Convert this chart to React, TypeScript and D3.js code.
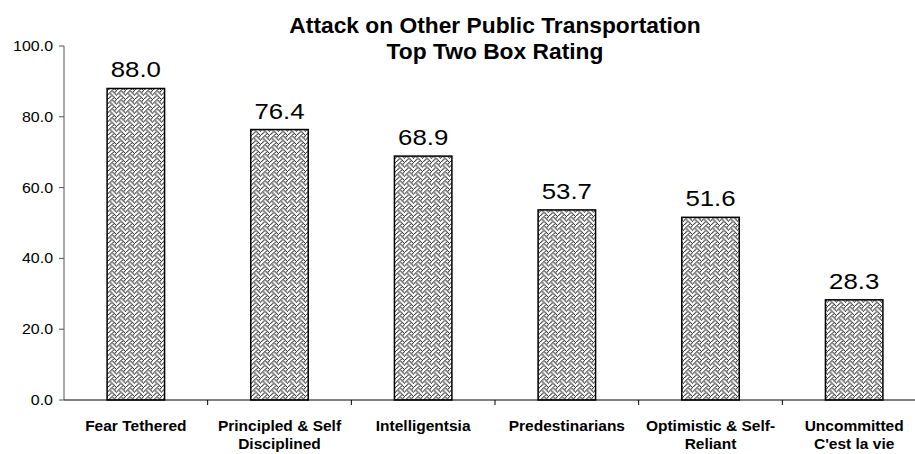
import React from "react";
import * as d3 from "d3";

const categories: string[][] = [
  ["Fear Tethered"],
  ["Principled & Self", "Disciplined"],
  ["Intelligentsia"],
  ["Predestinarians"],
  ["Optimistic & Self-", "Reliant"],
  ["Uncommitted", "C'est la vie"],
];
const values: number[] = [88.0, 76.4, 68.9, 53.7, 51.6, 28.3];
const yTicks: number[] = [0, 20, 40, 60, 80, 100];
const titleLines: string[] = ["Attack on Other Public Transportation", "Top Two Box Rating"];

// 8x8 weave bitmap rows
const weaveRows: number[] = [0x11, 0x2a, 0x44, 0xa2, 0x11, 0x28, 0x44, 0x8a];

const W = 915;
const H = 454;
const left = 64;
const right = 926;
const top = 46;
const bottom = 400;
const FONT = "Arial, 'Liberation Sans', Helvetica, sans-serif";

export default function App() {
  const x = d3
    .scaleBand<number>()
    .domain(values.map((_, i) => i))
    .range([left, right])
    .paddingInner(0)
    .paddingOuter(0);
  const y = d3.scaleLinear().domain([0, 100]).range([bottom, top]);
  const bw = x.bandwidth() * 0.4;

  const cells: { cx: number; cy: number }[] = [];
  weaveRows.forEach((row, r) => {
    for (let c = 0; c < 8; c++) {
      if ((row >> (7 - c)) & 1) cells.push({ cx: c, cy: r });
    }
  });

  return (
    <svg
      width={W}
      height={H}
      style={{ position: "absolute", left: 0, top: 0, background: "#fff" }}
      fontFamily={FONT}
    >
      <defs>
        <pattern id="weave" patternUnits="userSpaceOnUse" width={9} height={9}>
          <rect width={9} height={9} fill="#fff" />
          {cells.map((p, i) => (
            <rect key={i} x={p.cx * 1.125} y={p.cy * 1.125} width={1.3} height={1.3} fill="#3a3a3a" />
          ))}
        </pattern>
      </defs>

      {/* title */}
      {titleLines.map((t, i) => (
        <text
          key={i}
          transform={`translate(${(left + right) / 2},${33 + i * 26}) scale(1.06,1)`}
          textAnchor="middle"
          fontSize={21.5}
          fontWeight="bold"
          fill="#000"
        >
          {t}
        </text>
      ))}

      {/* bars */}
      {values.map((v, i) => {
        const cx = (x(i) as number) + x.bandwidth() / 2;
        return (
          <g key={i}>
            <rect
              x={cx - bw / 2}
              y={y(v)}
              width={bw}
              height={y(0) - y(v)}
              fill="url(#weave)"
              stroke="#000"
              strokeWidth={1.5}
            />
            <text
              transform={`translate(${cx},${y(v) - 11}) scale(1.2,1)`}
              textAnchor="middle"
              fontSize={21.5}
              fill="#000"
            >
              {v.toFixed(1)}
            </text>
          </g>
        );
      })}

      {/* y axis */}
      <line x1={left} x2={left} y1={top} y2={bottom} stroke="#555" strokeWidth={1} />
      {yTicks.map((t) => (
        <g key={t}>
          <line x1={left - 5} x2={left} y1={y(t)} y2={y(t)} stroke="#555" strokeWidth={1} />
          <text
            transform={`translate(${left - 11},${y(t) + 5}) scale(1.1,1)`}
            textAnchor="end"
            fontSize={14.5}
            fill="#000"
          >
            {t.toFixed(1)}
          </text>
        </g>
      ))}

      {/* x axis */}
      <line x1={left} x2={right} y1={bottom} y2={bottom} stroke="#000" strokeWidth={1} />
      {values.map((_, i) => (
        <line
          key={i}
          x1={(x(i) as number) + x.bandwidth()}
          x2={(x(i) as number) + x.bandwidth()}
          y1={bottom}
          y2={bottom + 5}
          stroke="#000"
          strokeWidth={1}
        />
      ))}
      {categories.map((lines, i) => {
        const cx = (x(i) as number) + x.bandwidth() / 2;
        return (
          <text key={i} textAnchor="middle" fontSize={15.5} fontWeight="bold" fill="#000">
            {lines.map((l, j) => (
              <tspan key={j} x={cx} y={431 + j * 18}>
                {l}
              </tspan>
            ))}
          </text>
        );
      })}
    </svg>
  );
}
